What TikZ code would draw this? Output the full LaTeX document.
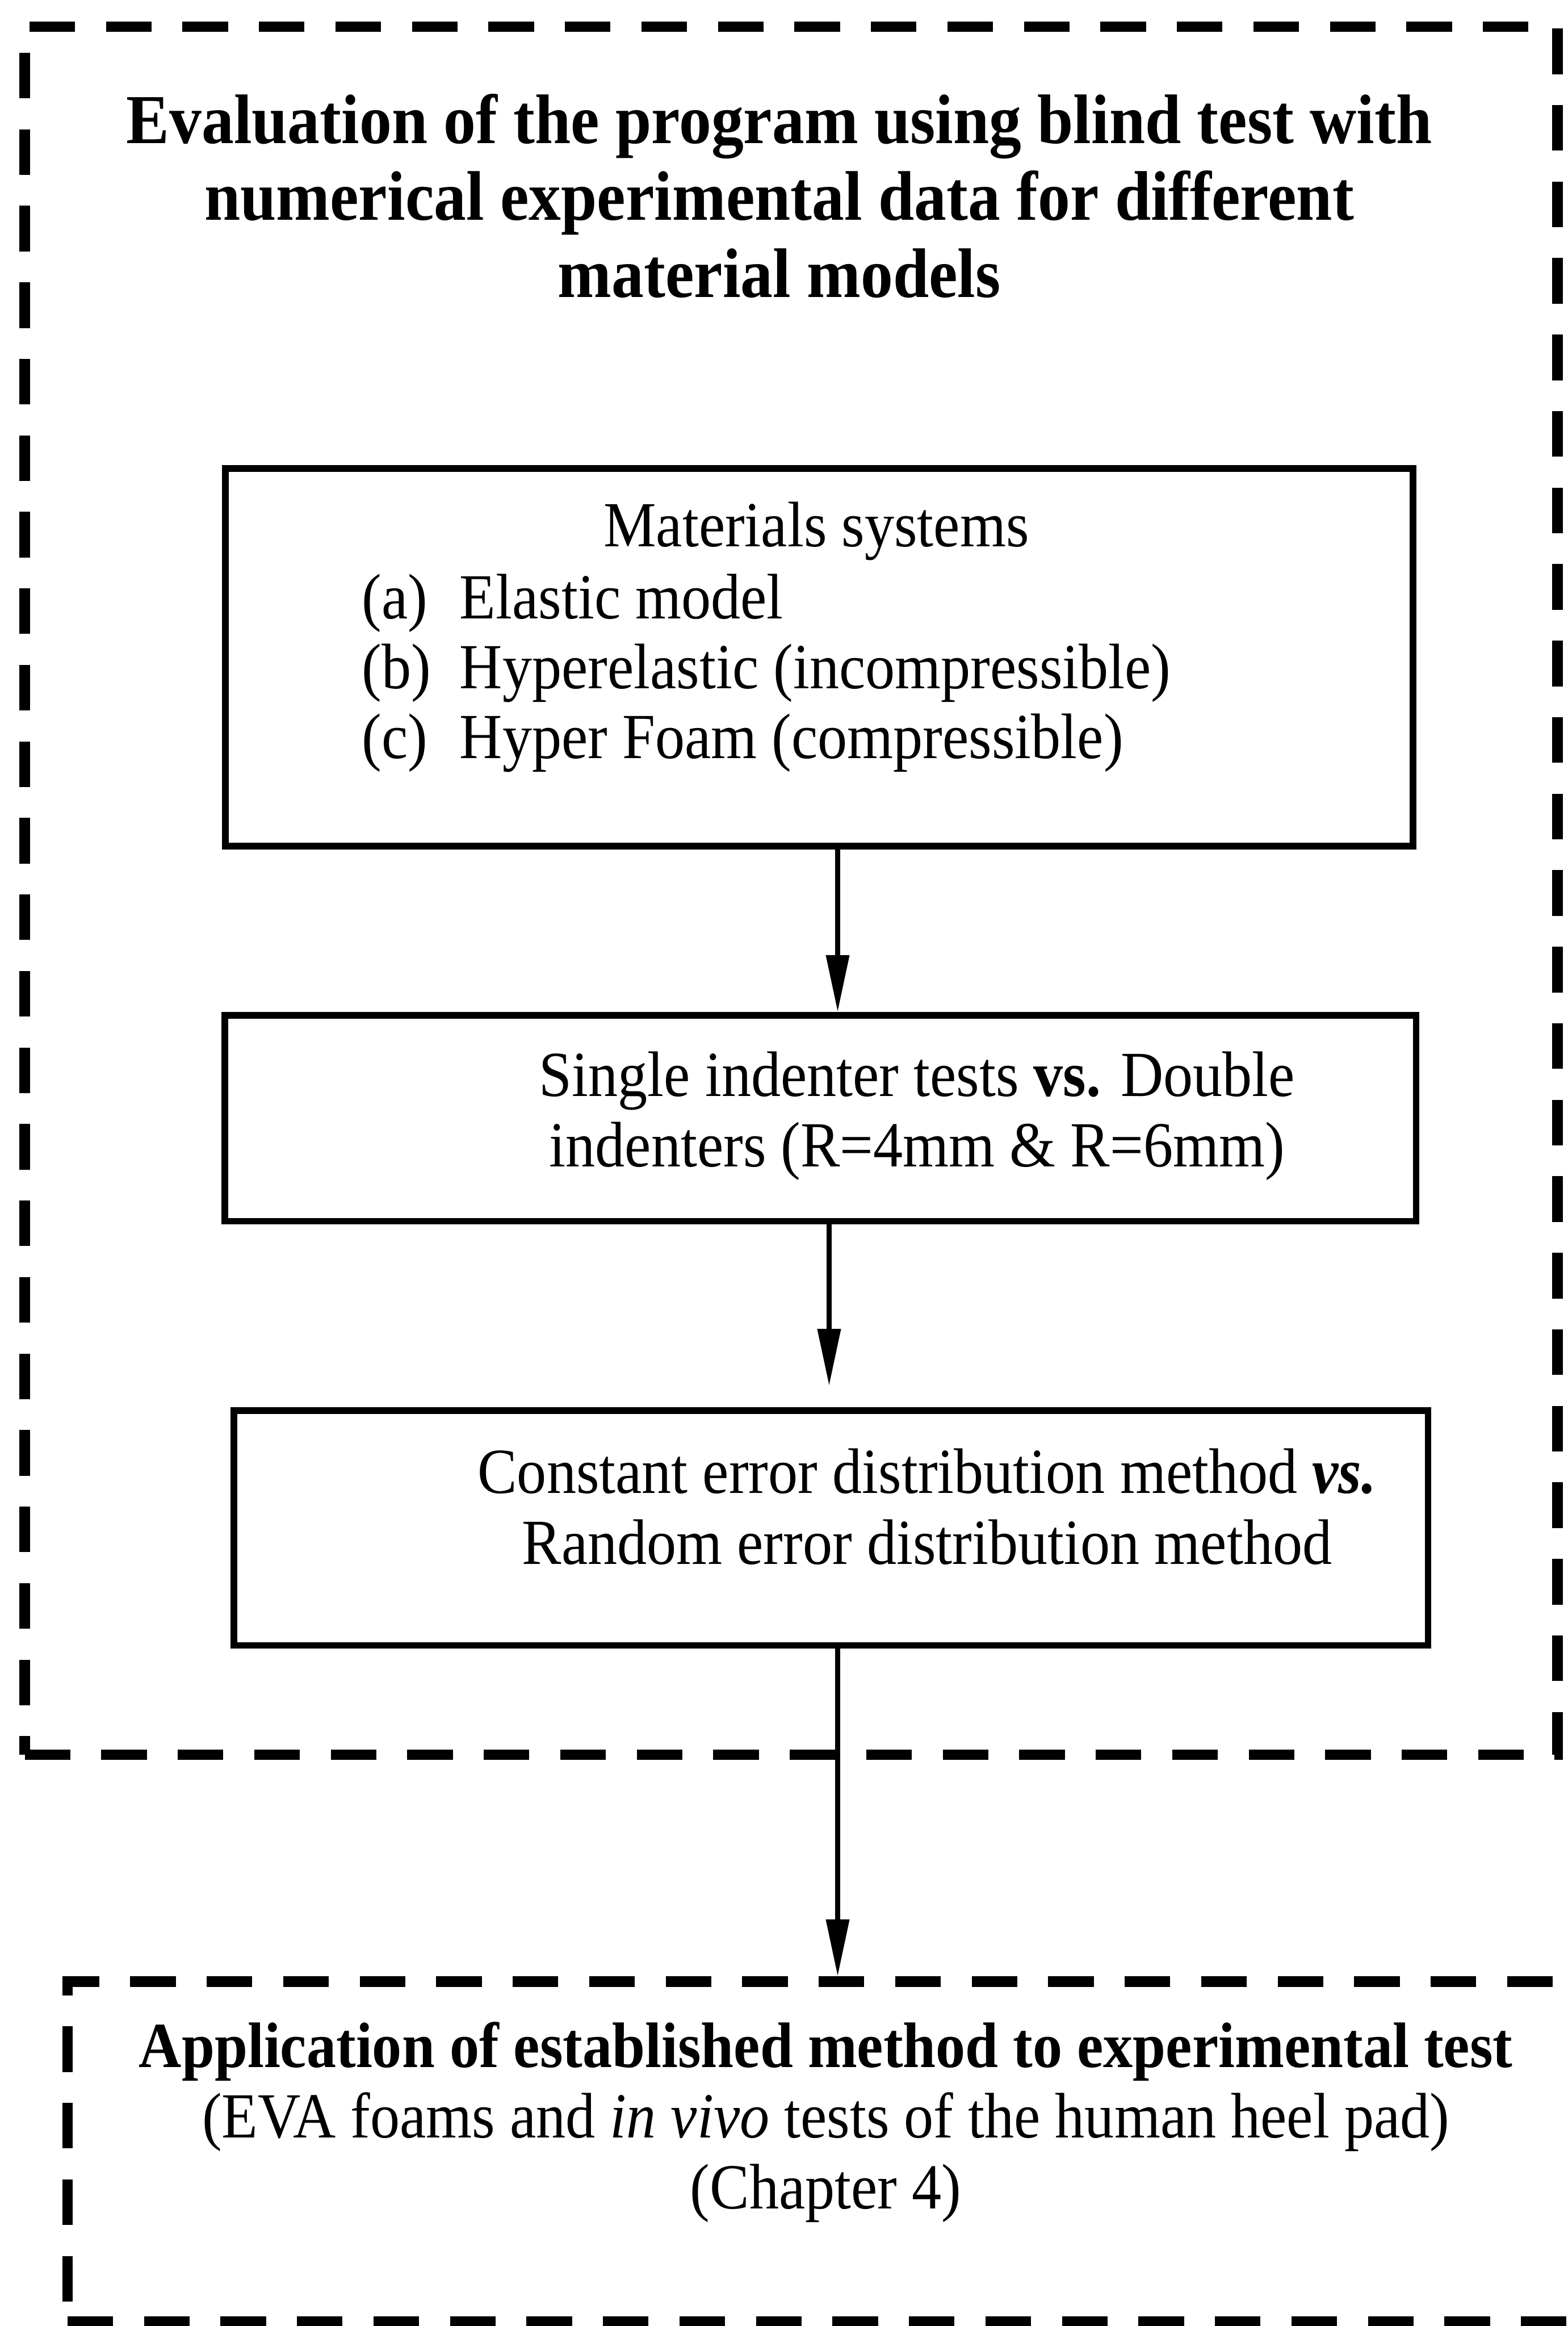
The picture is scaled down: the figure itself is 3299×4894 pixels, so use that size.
\documentclass[tikz,border=0pt]{standalone}
\usepackage{fontspec}
\setmainfont{Liberation Serif}[FakeStretch=0.92]
\usetikzlibrary{arrows.meta,positioning}

\begin{document}
\begin{tikzpicture}[
  x=0.1mm, y=-0.1mm,
  every node/.style={font=\fontsize{38.5}{42.4}\selectfont, inner sep=0pt},
  flowbox/.style={draw, line width=1.4mm, minimum width=250mm},
  dashbox/.style={draw, line width=2.2mm, dash pattern=on 9.6mm off 6.5mm},
  arr/.style={-{Triangle[length=12mm,width=4.7mm]}, line width=1.1mm},
]
  \useasboundingbox (0,0) rectangle (3299,4894);
  \clip (0,0) rectangle (3299,4894);

  % Dashed frames
  \node[dashbox, minimum width=322.6mm, minimum height=363.6mm] (evalframe) at (1665,1874) {};
  \node[dashbox, minimum width=321.8mm, minimum height=71.5mm] (appframe) at (1751,4527) {};

  % Title
  \node[font=\fontsize{42}{46.1}\selectfont\bfseries, align=center] (evaltitle) at (1640,412)
    {Evaluation of the program using blind test with\\numerical experimental data for different\\material models};

  % Flow boxes
  \node[flowbox, minimum height=79.4mm] (mats) at (1724,1383) {};
  \node[flowbox, minimum width=250.7mm, minimum height=43.3mm] (tests) at (1727,2353) {};
  \node[flowbox, minimum width=251.3mm, minimum height=49.4mm] (errs) at (1749,3215) {};

  % Box texts
  \node[anchor=base] (matshead) at (1718,1150) {Materials systems};
  \foreach \lbl/\txt [count=\i] in {a/Elastic model, b/Hyperelastic (incompressible), c/Hyper Foam (compressible)}
    \node[anchor=base west] (mat\lbl) at (761,{1302+147*(\i-1)}) {\makebox[20.6mm][l]{(\lbl)}\txt};
  \node[align=center] (teststext) at (1930,2348)
    {Single indenter tests \textbf{vs.} Double\\indenters (R=4mm \& R=6mm)};
  \node[align=center] (errstext) at (1951,3170)
    {Constant error distribution method \textbf{\textit{vs.}}\\Random error distribution method};
  \node[align=center] (apptext) at (1738,4465)
    {\textbf{Application of established method to experimental test}\\(EVA foams and \textit{in vivo} tests of the human heel pad)\\(Chapter 4)};

  % Arrows
  \coordinate (xa) at (1763,0);
  \coordinate (xb) at (1745,0);
  \draw[arr] (mats.south -| xa) -- (tests.north -| xa);
  \draw[arr, shorten >=4.5mm] (tests.south -| xb) -- (errs.north -| xb);
  \draw[arr] (errs.south -| xa) -- (appframe.north -| xa);
\end{tikzpicture}
\end{document}
